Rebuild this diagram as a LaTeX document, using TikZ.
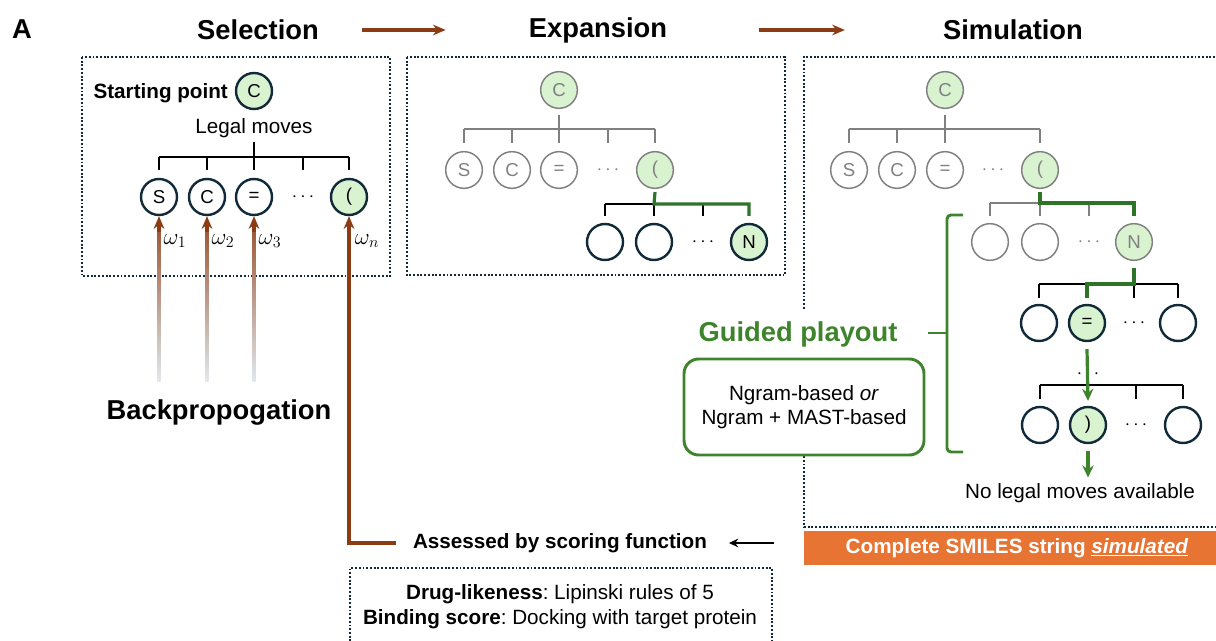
\documentclass[tikz,border=0pt]{standalone}
\usepackage{fontspec}
\setmainfont{Liberation Sans}
\usetikzlibrary{arrows, arrows.meta, positioning, calc}
\definecolor{bpbrown}{RGB}{140,60,20}
\definecolor{navy}{RGB}{16,42,58}
\definecolor{lgreen}{RGB}{217,242,208}
\definecolor{gpgreen}{RGB}{62,132,44}
\definecolor{treegreen}{RGB}{45,115,40}
\definecolor{smilesorange}{RGB}{232,116,52}
\definecolor{fadegray}{RGB}{225,232,238}
\newcommand{\txtsize}{\fontsize{15.5}{18.8}\selectfont}
\newcommand{\ttlsize}{\fontsize{20.5}{24}\selectfont}
\newcommand{\mvsize}{\fontsize{14}{16}\selectfont}
\tikzstyle{title} = [font=\bfseries\ttlsize, inner sep=0pt]
\tikzstyle{lbl} = [font=\txtsize, inner sep=2pt]
\tikzstyle{wlbl} = [font=\fontsize{17}{19}\selectfont, inner sep=0pt]
\tikzstyle{mv} = [circle, draw=navy, line width=1.8pt, fill=white, minimum size=27pt, inner sep=0pt, font=\mvsize]
\tikzstyle{mvsel} = [mv, fill=lgreen]
\tikzstyle{gmv} = [circle, draw=gray, line width=1.1pt, fill=white, minimum size=27.5pt, inner sep=0pt, text=gray, font=\mvsize]
\tikzstyle{gmvsel} = [gmv, fill=lgreen]
\tikzstyle{more} = [inner sep=0pt, font=\mvsize]
\tikzstyle{tree} = [line width=1.1pt, draw=black]
\tikzstyle{gtree} = [line width=1.1pt, draw=gray]
\tikzstyle{hl} = [line width=2.4pt, draw=treegreen]
\tikzstyle{frame} = [draw=navy, line width=2pt, dash pattern=on 1.4pt off 1.4pt]
\tikzstyle{bparrow} = [line width=2.3pt, ->, >={Stealth[length=9.5pt, width=8pt]}, draw=bpbrown]
\tikzstyle{garrow} = [line width=2.4pt, ->, >={Stealth[length=9pt, width=8.5pt]}, draw=gpgreen]
\tikzstyle{arrow} = [line width=1.3pt, ->, >={Stealth[length=7pt, width=6.5pt]}]

\begin{document}
\frenchspacing
\begin{tikzpicture}[x=0.75pt, y=-0.75pt]
  \useasboundingbox (0,0) rectangle (1216,641);

  % frames
  \draw[frame] (82,57) rectangle (390,276);
  \draw[frame] (407,57) rectangle (785,275);
  \draw[frame] (1230,57) -- (804,57) -- (804,527) -- (1230,527);
  \draw[frame] (350,660) -- (350,568) -- (772,568) -- (772,660);

  \node (A) [title] at (22,29) {A};
  \node (selT) [title] at (258,30) {Selection};
  \node (expT) [title] at (598,30) {Expansion};
  \node (simT) [title] at (1013,30) {Simulation};
  \draw[bparrow] ($(selT.east)+(43,0)$) -- ($(expT.west)+(-83,0)$);
  \draw[bparrow] ($(expT.east)+(92,0)$) -- ($(simT.west)+(-98,0)$);

  % selection
  \node (start) [mvsel] at (254,91) {C};
  \node (startlbl) [lbl, font=\bfseries\txtsize, left=3pt of start, yshift=-2pt] {Starting point};
  \node (legal) [lbl] at (254,128) {Legal moves};
  \node (s1) [mv] at (159,197) {S};
  \node (s2) [mv] at (207,197) {C};
  \node (s3) [mv] at (254,197) {=};
  \node (sdots) [more] at (303,197) {$\cdots$};
  \node (s4) [mvsel] at (349,197) {(};
  \coordinate (sh) at (254,157);
  \draw[tree] ($(sh)+(0,-15)$) -- (sh);
  \draw[tree] (s1 |- sh) -- (s4 |- sh);
  \foreach \n in {s1,s2,s3,sdots,s4}
    \draw[tree] (\n |- sh) -- ++(0,13);

  \foreach \n/\w in {s1/1,s2/2,s3/3} {
    \shade[top color=bpbrown!85, bottom color=fadegray] ($(\n.south)+(-1.5,14)$) rectangle ($(\n.south)+(1.5,165)$);
    \draw[bparrow] ($(\n.south)+(0,16)$) -- (\n.south);
    \node (w\w) [wlbl] at ($(\n.south)+(16,25)$) {$\omega_\w$};
  }
  \node (wn) [wlbl] at ($(s4.south)+(18,25)$) {$\omega_n$};
  \node (backprop) [title] at (219,412) {Backpropogation};

  \node (score) [lbl, font=\bfseries\txtsize] at (560,543) {Assessed by scoring function};
  \draw[bparrow] ($(score.west)+(-14,0)$) -| (s4.south);
  \node (crit) [lbl, align=center] at (560,607) {\textbf{Drug-likeness}: Lipinski rules of 5\\\textbf{Binding score}: Docking with target protein};

  % expansion
  \node (eC) [gmvsel] at (559,90) {C};
  \coordinate (eh) at (559,129);
  \node (eS) [gmv] at (464,170) {S};
  \node (eC2) [gmv] at (512,170) {C};
  \node (eEq) [gmv] at (559,170) {=};
  \node (edots) [more, text=gray] at (608,170) {$\cdots$};
  \node (eP) [gmvsel] at (655,170) {(};
  \draw[gtree] ($(eC.south)+(0,6)$) -- (eh);
  \draw[gtree] (eS |- eh) -- (eP |- eh);
  \foreach \n in {eS,eC2,eEq,edots,eP}
    \draw[gtree] (\n |- eh) -- ++(0,14);

  \node (e21) [mv] at (605,242) {};
  \node (e22) [mv] at (654,242) {};
  \node (e2dots) [more] at (703,242) {$\cdots$};
  \node (eN) [mvsel] at (749,242) {N};
  \coordinate (eh2) at (654,204);
  \draw[tree] (e21 |- eh2) -- (eh2);
  \foreach \n in {e21,e22,e2dots}
    \draw[tree] (\n |- eh2) -- ++(0,12);
  \draw[hl] ($(eP.south)+(0,3)$) -- (eh2) -| ($(eN.north)+(0,-7)$);

  % simulation
  \node (mC) [gmvsel] at (945,90) {C};
  \coordinate (mh) at (945,129);
  \node (mS) [gmv] at (849,170) {S};
  \node (mC2) [gmv] at (897,170) {C};
  \node (mEq) [gmv] at (945,170) {=};
  \node (mdots) [more, text=gray] at (993,170) {$\cdots$};
  \node (mP) [gmvsel] at (1040,170) {(};
  \draw[gtree] ($(mC.south)+(0,6)$) -- (mh);
  \draw[gtree] (mS |- mh) -- (mP |- mh);
  \foreach \n in {mS,mC2,mEq,mP}
    \draw[gtree] (\n |- mh) -- ++(0,14);

  \node (m21) [gmv] at (990,242) {};
  \node (m22) [gmv] at (1040,242) {};
  \node (m2dots) [more, text=gray] at (1089,242) {$\cdots$};
  \node (mN) [gmvsel] at (1134,242) {N};
  \coordinate (mh2) at (1040,203);
  \draw[gtree] (m21 |- mh2) -- (mh2);
  \foreach \n in {m21,m22,m2dots}
    \draw[gtree] (\n |- mh2) -- ++(0,13);
  \draw[hl] ($(mP.south)+(0,3)$) -- (mh2) -| ($(mN.north)+(0,-7)$);

  \node (m31) [mv] at (1039,323) {};
  \node (m32) [mvsel] at (1087,323) {=};
  \node (m3dots) [more] at (1134,323) {$\cdots$};
  \node (m34) [mv] at (1178,323) {};
  \coordinate (mh3) at (1134,284);
  \draw[tree] (m31 |- mh3) -- (m34 |- mh3);
  \foreach \n in {m31,m3dots,m34}
    \draw[tree] (\n |- mh3) -- ++(0,14);
  \draw[hl] ($(mN.south)+(0,7)$) -- (mh3) -| ($(m32.north)+(0,-6)$);

  \node (m4txt) [more] at (1088,374) {$\cdots$};
  \node (m41) [mv] at (1040,425) {};
  \node (m42) [mvsel] at (1088,425) {)};
  \node (m4dots) [more] at (1136,425) {$\cdots$};
  \node (m44) [mv] at (1183,425) {};
  \coordinate (mh4) at (1088,385);
  \draw[tree] (m41 |- mh4) -- (m44 |- mh4);
  \foreach \n in {m41,m42,m4dots,m44}
    \draw[tree] (\n |- mh4) -- ++(0,14);
  \draw[garrow] ($(m32.south)+(0,7)$) -- ($(m42.north)+(0,-5)$);
  \node (nolegal) [lbl] at (1080,493) {No legal moves available};
  \draw[garrow] ($(m42.south)+(0,7)$) -- ($(m42 |- nolegal.north)+(0,-3)$);

  \node (guided) [title, text=gpgreen, fill=white, minimum height=37pt, inner xsep=2pt] at (798,334) {Guided playout};
  \node (ngram) [draw=gpgreen, line width=2.2pt, rounded corners=11pt, fill=white, minimum width=180pt, minimum height=72pt, align=center, font=\fontsize{15.5}{17.5}\selectfont] at (804,407) {Ngram-based \textit{or}\\Ngram + MAST-based};
  \draw[line width=2.2pt, draw=gpgreen, rounded corners=3pt] (963,215) -- (947,215) -- (947,452) -- (963,452);
  \draw[line width=2.2pt, draw=gpgreen] (928,333) -- (947,333);

  \node (smiles) [fill=smilesorange, text=white, font=\bfseries\txtsize, minimum width=319.5pt, minimum height=25.5pt, inner sep=0pt] at (1017,548) {Complete SMILES string \underline{\textit{simulated}}};
  \draw[arrow] ($(score.east)+(64,0)$) -- ($(score.east)+(19,0)$);
\end{tikzpicture}
\end{document}
